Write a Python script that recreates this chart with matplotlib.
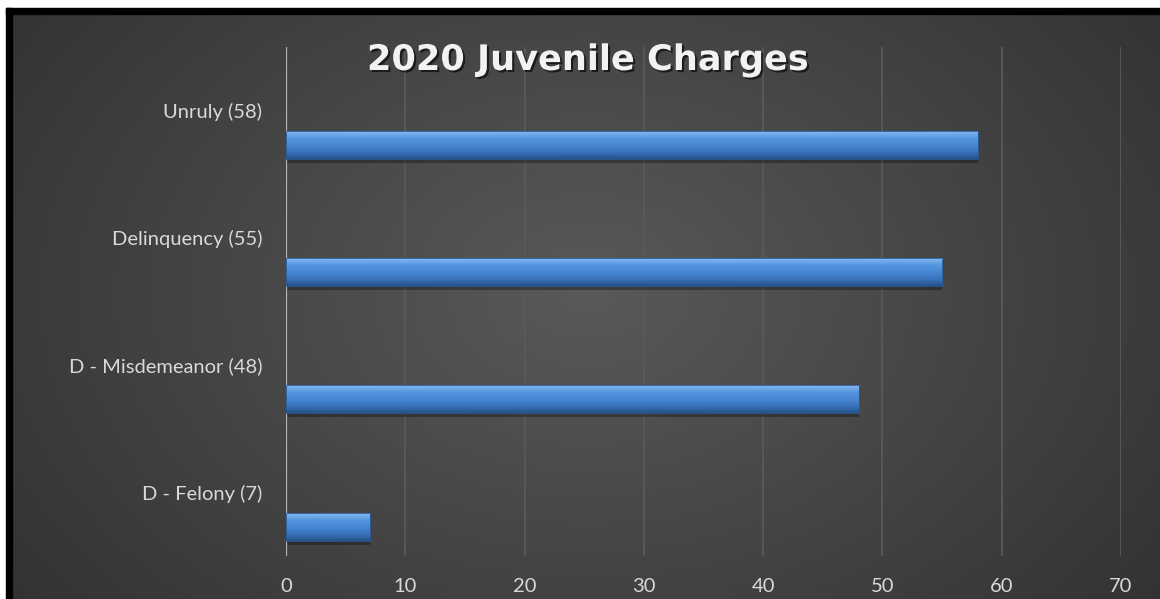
import numpy as np
import matplotlib
matplotlib.use("Agg")
from matplotlib import pyplot as plt
from matplotlib.patches import Rectangle
from matplotlib.colors import LinearSegmentedColormap
import matplotlib.patheffects as pe

## Données

categories = ["D - Felony (7)", "D - Misdemeanor (48)", "Delinquency (55)", "Unruly (58)"]
valeurs = [7, 48, 55, 58]
ticks_x = [0, 10, 20, 30, 40, 50, 60, 70]
titre = "2020 Juvenile Charges"

W, H = 1160, 599
fig = plt.figure(figsize=(W / 100, H / 100), dpi=100)
fig.patch.set_facecolor("white")

## Fond : dégradé radial (clair au centre, sombre aux bords)

fond = fig.add_axes([12 / W, 0, 1 - 12 / W, 1 - 14 / H], zorder=0)
yy, xx = np.mgrid[0:200, 0:400]
cx, cy = 200, 95
d = np.sqrt(((xx - cx) / 330.0) ** 2 + ((yy - cy) / 230.0) ** 2)
d = np.clip(d, 0, 1)
niveau = 0.35 - 0.20 * d
fond.imshow(np.dstack([niveau, niveau, niveau]), aspect="auto", interpolation="bilinear")
fond.axis("off")

# cadre noir en haut et à gauche
fig.patches.append(Rectangle((6 / W, 0), 6 / W, 1 - 8 / H, transform=fig.transFigure,
                             color="black", zorder=1))
fig.patches.append(Rectangle((6 / W, 1 - 14 / H), 1 - 6 / W, 6 / H, transform=fig.transFigure,
                             color="black", zorder=1))

## Graphique

ax = fig.add_axes([286 / W, 1 - 556 / H, (1121 - 286) / W, (556 - 47) / H], zorder=2)
ax.patch.set_alpha(0)

for x in ticks_x[1:]:
    ax.axvline(x, color="#595959", lw=1.3, zorder=1)
ax.axvline(0, color="#b5b5b5", lw=1.6, zorder=3)

bleu = LinearSegmentedColormap.from_list("bleu", ["#24528c", "#3a74bb", "#4787d3", "#5596e0", "#86b9f0"])
grad = np.linspace(0, 1, 64).reshape(-1, 1)
decal = 0.27
haut = 0.22
for i, v in enumerate(valeurs):
    y0 = i - decal - haut / 2
    # ombre
    ax.barh(i - decal - 0.03, v, height=haut, color="black", alpha=0.3, zorder=2)
    ax.imshow(grad, cmap=bleu, aspect="auto", origin="lower",
              extent=[0, v, y0, y0 + haut], zorder=4)
    ax.barh(i - decal, v, height=haut, fill=False, edgecolor="#2a5a96", lw=0.6, zorder=5)

ax.set_xlim(0, 70)
ax.set_ylim(-0.5, 3.5)
ax.set_yticks(range(len(categories)))
ax.set_yticklabels(categories)
ax.set_xticks(ticks_x)
ax.tick_params(axis="both", length=0, colors="#d9d9d9", labelsize=14.5)
ax.tick_params(axis="y", pad=17)
ax.tick_params(axis="x", pad=16)
for lab in ax.get_xticklabels() + ax.get_yticklabels():
    lab.set_fontfamily("Lato")
for s in ax.spines.values():
    s.set_visible(False)

fig.text(588 / W, 1 - 60 / H, titre, ha="center", va="center", color="#f2f2f2",
         fontsize=25.3, fontweight="bold", family="DejaVu Sans",
         path_effects=[pe.withSimplePatchShadow(offset=(1.5, -1.5), shadow_rgbFace="black", alpha=0.6)])

fig.savefig("out.png", dpi=100, facecolor="white")
